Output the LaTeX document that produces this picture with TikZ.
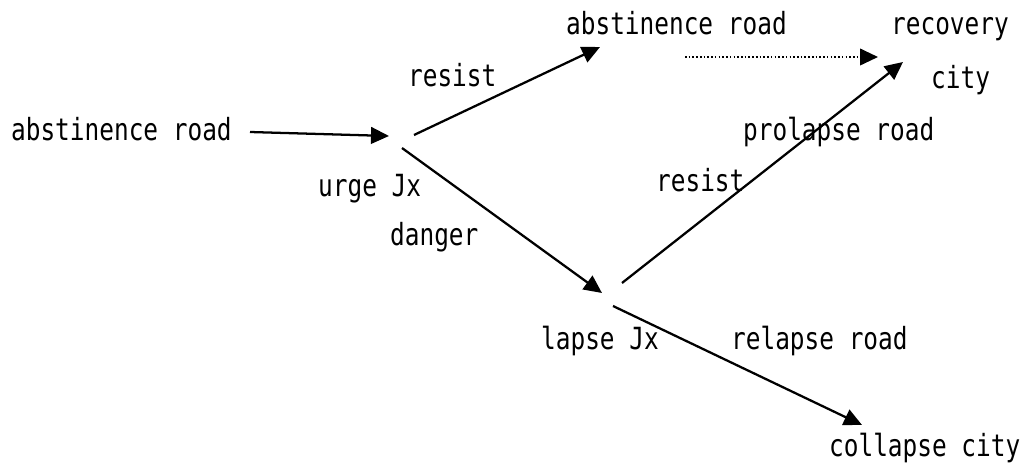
\documentclass[tikz,border=0pt]{standalone}
\usepackage{fontspec}
\newfontfamily\jxfont{DejaVu Sans Mono}[FakeStretch=0.8]
\usetikzlibrary{arrows.meta}

\begin{document}
\begin{tikzpicture}[x=0.75pt,y=-0.75pt,->,>={Triangle[length=13.5pt,width=12.5pt]},line width=1.7pt,
  every node/.style={inner sep=0pt,anchor=mid west,font=\jxfont\fontsize{22.9pt}{26pt}\selectfont}]
  \useasboundingbox (0,0) rectangle (1026,467);
  % labels
  \node (AR) at (10,138) {abstinence road};
  \node (UJ) at (317,194) {urge Jx};
  \node (R1) at (407,84) {resist};
  \node (DG) at (389,243) {danger};
  \node (LJ) at (540,347) {lapse Jx};
  \node (RR) at (730,347) {relapse road};
  \node (R2) at (655,189) {resist};
  \node (PR) at (742,138) {prolapse road};
  \node (AT) at (565,32) {abstinence road};
  \node (RC) at (890,32) {recovery};
  \node (CT) at (930,86) {city};
  \node (CC) at (828,454) {collapse city};
  % arrow ends
  \coordinate (a0) at (250,132);  \coordinate (a1) at (389,136);
  \coordinate (u1) at (414,135);  \coordinate (t1) at (600,47);
  \coordinate (u2) at (402,148);  \coordinate (l1) at (602,293);
  \coordinate (l2) at (622,283);  \coordinate (v1) at (903,62);
  \coordinate (l3) at (613,306);  \coordinate (c1) at (862,425);
  \coordinate (d0) at (685,57);   \coordinate (d1) at (878,57);
  \draw (a0) -- (a1);
  \draw (u1) -- (t1);
  \draw (u2) -- (l1);
  \draw (l2) -- (v1);
  \draw (l3) -- (c1);
  \draw[line width=1.4pt,dash pattern=on 1.2pt off 1.6pt] (d0) -- (d1);
\end{tikzpicture}
\end{document}
